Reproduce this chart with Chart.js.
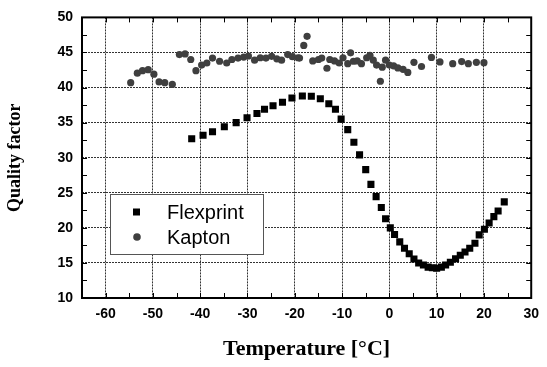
<!DOCTYPE html>
<html>
<head>
<meta charset="utf-8">
<script src="https://cdn.jsdelivr.net/npm/chart.js@4.4.1/dist/chart.umd.min.js"></script>
<style>
  html, body { margin: 0; padding: 0; background: #fff; }
  canvas { display: block; }
</style>
</head>
<body>
<canvas id="chart" width="547" height="367"></canvas>
<script>
// Flexprint: temperature [°C] and quality factor
const flexTemp = [-41.8, -39.4, -37.4, -34.9, -32.4, -30.1, -28.0, -26.4, -24.6, -22.6, -20.6, -18.4, -16.5, -14.6, -12.8, -11.4, -10.2, -8.8, -7.5, -6.3, -5.0, -3.9, -2.8, -1.7, -0.8, 0.2, 1.1, 2.2, 3.2, 4.2, 5.2, 6.2, 7.2, 8.2, 9.1, 10.0, 11.0, 11.9, 12.9, 14.0, 15.0, 16.0, 17.0, 18.1, 19.0, 20.1, 21.1, 22.1, 23.0, 24.3];
const flexQ = [32.7, 33.2, 33.7, 34.4, 35.0, 35.7, 36.3, 36.9, 37.4, 37.9, 38.5, 38.8, 38.75, 38.4, 37.7, 36.9, 35.5, 34.0, 32.2, 30.4, 28.3, 26.2, 24.45, 22.9, 21.3, 20.0, 19.05, 18.0, 17.1, 16.3, 15.55, 15.0, 14.7, 14.4, 14.3, 14.25, 14.4, 14.7, 15.1, 15.6, 16.1, 16.55, 17.1, 17.8, 19.0, 19.8, 20.7, 21.6, 22.4, 23.7];

// Kapton
const kaptonTemp = [-54.7, -53.3, -52.2, -51.0, -49.8, -48.7, -47.5, -45.9, -44.4, -43.2, -42.0, -40.9, -39.7, -38.6, -37.4, -35.9, -34.4, -33.3, -32.0, -30.8, -29.8, -28.5, -27.3, -26.1, -24.9, -23.8, -22.8, -21.5, -20.5, -19.3, -19.0, -18.1, -17.4, -16.2, -15.0, -14.3, -13.2, -12.6, -11.6, -10.6, -9.8, -8.8, -8.2, -7.6, -6.8, -5.9, -4.8, -4.1, -3.4, -2.7, -1.9, -1.5, -0.8, 0.0, 0.9, 1.8, 2.9, 3.9, 5.2, 6.8, 8.9, 10.7, 13.4, 15.3, 16.7, 18.4, 20.0];
const kaptonQ = [40.7, 42.05, 42.4, 42.55, 41.9, 40.8, 40.7, 40.45, 44.7, 44.8, 44.0, 42.4, 43.2, 43.5, 44.2, 43.75, 43.5, 44.0, 44.2, 44.35, 44.5, 43.9, 44.25, 44.2, 44.45, 44.1, 43.9, 44.7, 44.4, 44.25, 44.2, 46.0, 47.3, 43.8, 44.0, 44.2, 42.75, 44.0, 43.8, 43.5, 44.25, 43.4, 44.95, 43.75, 43.8, 43.4, 44.25, 44.6, 43.9, 43.2, 40.9, 42.9, 43.9, 43.2, 43.1, 42.8, 42.6, 42.15, 43.6, 43.0, 44.3, 43.65, 43.4, 43.7, 43.4, 43.6, 43.55];

const xTicks = [-60, -50, -40, -30, -20, -10, 0, 10, 20, 30];
const yTicks = [10, 15, 20, 25, 30, 35, 40, 45, 50];

const toPoints = (xs, ys) => xs.map((x, i) => ({x: x, y: ys[i]}));

// inward minor ticks, frame and the boxed legend inside the plot
const framePlugin = {
  id: 'frame',
  beforeDatasetsDraw(chart) {
    const {ctx, chartArea: a, scales: {x, y}} = chart;
    ctx.save();
    ctx.strokeStyle = '#000';
    ctx.lineWidth = 1;
    ctx.beginPath();
    for (let v = -65; v <= 30; v += 5) {
      const px = Math.round(x.getPixelForValue(v)) + 0.5;
      ctx.moveTo(px, a.bottom); ctx.lineTo(px, a.bottom - 5);
      ctx.moveTo(px, a.top); ctx.lineTo(px, a.top + 5);
    }
    for (let v = 10; v <= 50; v += 2.5) {
      const py = Math.round(y.getPixelForValue(v)) + 0.5;
      ctx.moveTo(a.left, py); ctx.lineTo(a.left + 5, py);
      ctx.moveTo(a.right, py); ctx.lineTo(a.right - 5, py);
    }
    ctx.stroke();
    ctx.lineWidth = 2;
    ctx.strokeRect(a.left, a.top, a.right - a.left, a.bottom - a.top);
    ctx.restore();
  },
  afterDatasetsDraw(chart) {
    const ctx = chart.ctx;
    const bx = 110, by = 194, bw = 153, bh = 60;
    ctx.save();
    ctx.fillStyle = '#fff';
    ctx.fillRect(bx, by, bw, bh);
    ctx.strokeStyle = '#555';
    ctx.lineWidth = 1;
    ctx.strokeRect(bx + 0.5, by + 0.5, bw, bh);
    ctx.font = '20px "Liberation Sans", Arial, sans-serif';
    ctx.textBaseline = 'middle';
    chart.data.datasets.forEach((ds, i) => {
      const cy = by + 18 + i * 25;
      ctx.fillStyle = ds.backgroundColor;
      if (ds.pointStyle === 'rect') {
        ctx.fillRect(bx + 23, cy - 3.5, 7, 7);
      } else {
        ctx.beginPath();
        ctx.arc(bx + 27, cy, 3.8, 0, Math.PI * 2);
        ctx.fill();
      }
      ctx.fillStyle = '#000';
      ctx.fillText(ds.label, bx + 57, cy + 1);
    });
    ctx.restore();
  }
};

const tickFont = {family: '"Liberation Sans", Arial, sans-serif', size: 14, weight: 'bold'};
const yTitleFont = {family: '"Liberation Serif", "Times New Roman", serif', size: 18, weight: 'bold'};
const xTitleFont = {family: '"Liberation Serif", "Times New Roman", serif', size: 22, weight: 'bold'};

new Chart(document.getElementById('chart'), {
  type: 'scatter',
  data: {
    datasets: [{
      label: 'Flexprint',
      data: toPoints(flexTemp, flexQ),
      pointStyle: 'rect',
      pointRadius: 5,
      backgroundColor: '#000',
      borderWidth: 0
    }, {
      label: 'Kapton',
      data: toPoints(kaptonTemp, kaptonQ),
      pointStyle: 'circle',
      pointRadius: 3.6,
      backgroundColor: '#3f3f3f',
      borderWidth: 0
    }]
  },
  options: {
    responsive: false,
    animation: false,
    devicePixelRatio: 1,
    layout: {padding: {top: 15, right: 11, left: 0, bottom: 0}},
    plugins: {legend: {display: false}, tooltip: {enabled: false}},
    scales: {
      x: {
        type: 'linear',
        min: -65,
        max: 30,
        afterBuildTicks: s => { s.ticks = xTicks.map(v => ({value: v})); },
        afterFit: s => { s.height = 69; },
        grid: {color: '#333', lineWidth: 1, drawTicks: false},
        border: {display: false, dash: [2, 1]},
        ticks: {font: tickFont, color: '#000', padding: 8},
        title: {display: true, text: 'Temperature [°C]', font: xTitleFont, color: '#000', padding: {top: 0, bottom: 4}}
      },
      y: {
        type: 'linear',
        min: 10,
        max: 50,
        afterBuildTicks: s => { s.ticks = yTicks.map(v => ({value: v})); },
        afterFit: s => { s.width = 82; },
        grid: {color: '#333', lineWidth: 1, drawTicks: false},
        border: {display: false, dash: [2, 1]},
        ticks: {font: tickFont, color: '#000', padding: 9},
        title: {display: true, text: 'Quality factor', font: yTitleFont, color: '#000', padding: {top: 5, bottom: 0}}
      }
    }
  },
  plugins: [framePlugin]
});
</script>
</body>
</html>
